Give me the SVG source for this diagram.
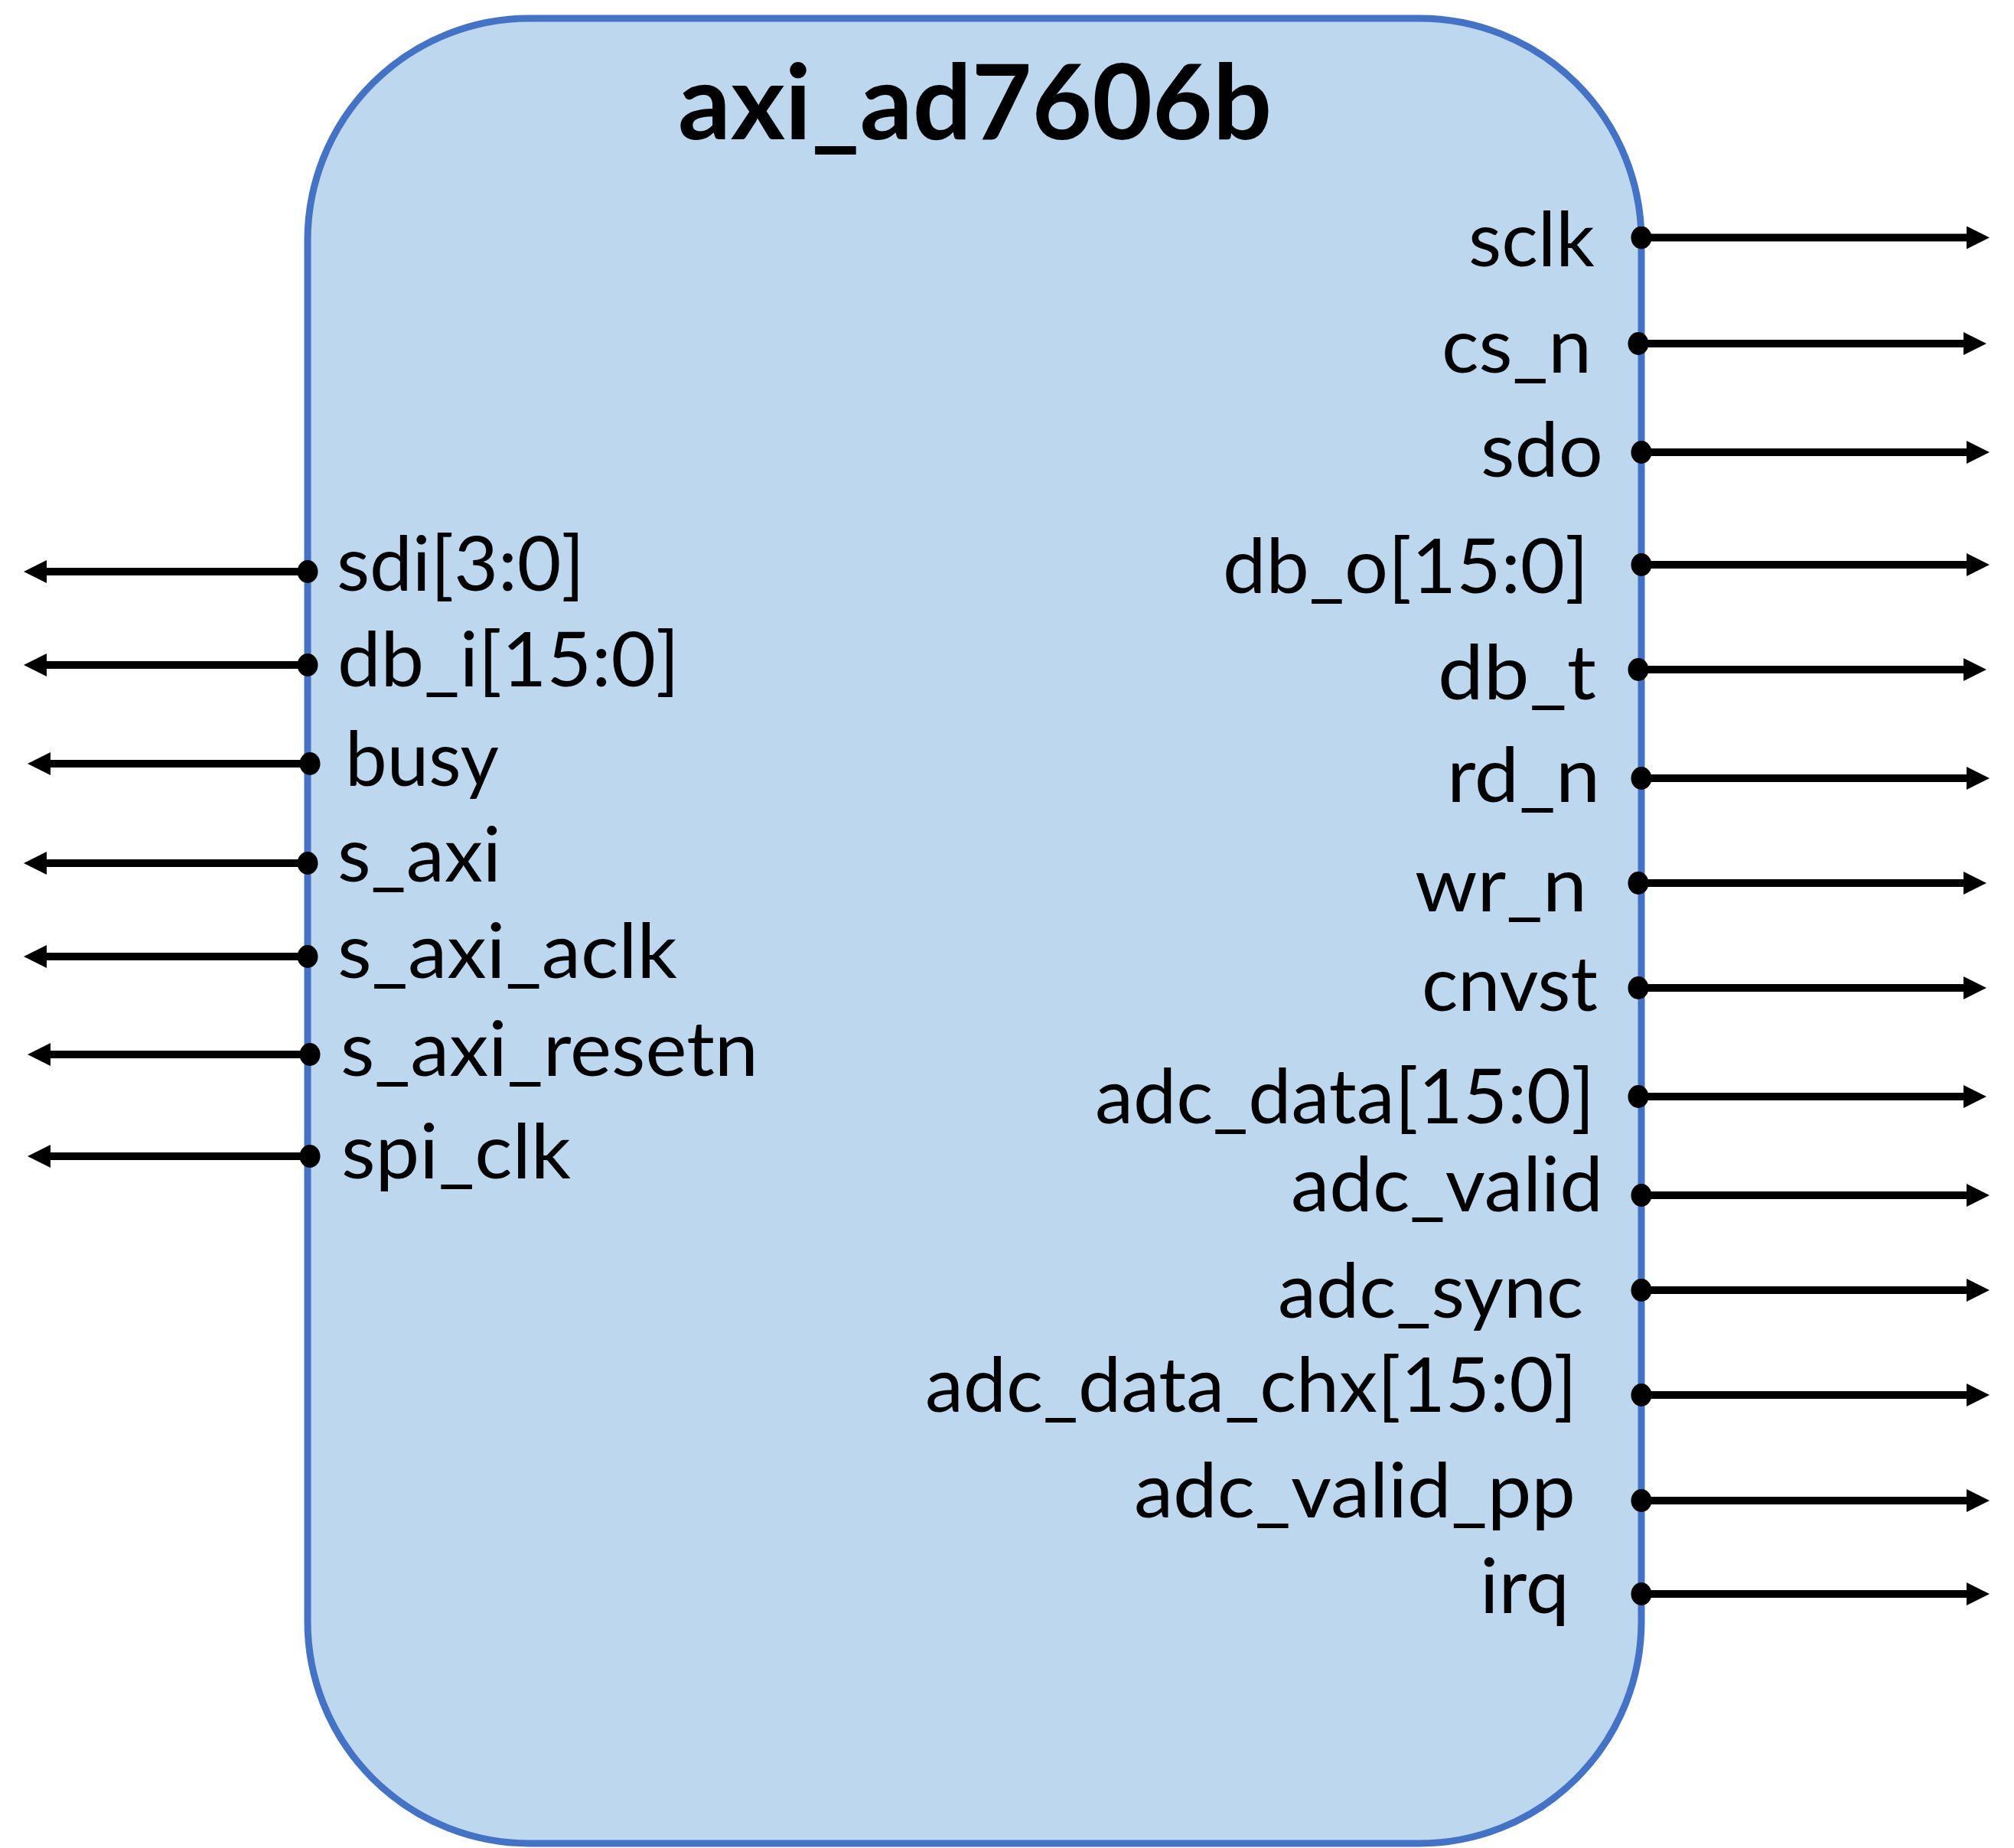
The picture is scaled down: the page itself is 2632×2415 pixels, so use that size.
<svg xmlns="http://www.w3.org/2000/svg" width="2632" height="2415" viewBox="0 0 2632 2415">
<style>
.blk{fill:#BDD7EE;stroke:#4472C4;stroke-width:9}
.ttl{font-family:Lato,"Open Sans","Liberation Sans",sans-serif;font-weight:bold;font-size:136px;fill:#000}
.lbl{font-family:Lato,"Open Sans","Liberation Sans",sans-serif;font-size:99px;fill:#000}
.r{text-anchor:end}
.w{stroke:#000;stroke-width:10;fill:none;marker-start:url(#dot);marker-end:url(#head)}
</style>
<defs>
<marker id="head" viewBox="0 0 30 30" markerUnits="userSpaceOnUse" markerWidth="30" markerHeight="30" refX="2" refY="15" orient="auto">
<path d="M0,0 L30,15 L0,30 z" fill="#000"/>
</marker>
<marker id="dot" viewBox="0 0 30 30" markerUnits="userSpaceOnUse" markerWidth="30" markerHeight="30" refX="15" refY="15" orient="auto">
<ellipse cx="15" cy="15" rx="13.5" ry="15" fill="#000"/>
</marker>
</defs>
<g id="axi_ad7606b">
<rect class="blk" x="402" y="24" width="1743" height="2385" rx="290" ry="290"/>
<text class="ttl" x="1274" y="182" text-anchor="middle" textLength="776" lengthAdjust="spacingAndGlyphs">axi_ad7606b</text>
<text class="lbl" x="440" y="772" textLength="324" lengthAdjust="spacingAndGlyphs">sdi[3:0]</text>
<text class="lbl" x="441" y="897" textLength="447" lengthAdjust="spacingAndGlyphs">db_i[15:0]</text>
<text class="lbl" x="451" y="1027" textLength="201" lengthAdjust="spacingAndGlyphs">busy</text>
<text class="lbl" x="441" y="1152" textLength="214" lengthAdjust="spacingAndGlyphs">s_axi</text>
<text class="lbl" x="441" y="1278" textLength="444" lengthAdjust="spacingAndGlyphs">s_axi_aclk</text>
<text class="lbl" x="445" y="1406" textLength="546" lengthAdjust="spacingAndGlyphs">s_axi_resetn</text>
<text class="lbl" x="446" y="1540" textLength="300" lengthAdjust="spacingAndGlyphs">spi_clk</text>
<text class="lbl r" x="2084" y="348" textLength="165" lengthAdjust="spacingAndGlyphs">sclk</text>
<text class="lbl r" x="2080" y="487" textLength="196" lengthAdjust="spacingAndGlyphs">cs_n</text>
<text class="lbl r" x="2095" y="623" textLength="160" lengthAdjust="spacingAndGlyphs">sdo</text>
<text class="lbl r" x="2076" y="775" textLength="478" lengthAdjust="spacingAndGlyphs">db_o[15:0]</text>
<text class="lbl r" x="2086" y="914" textLength="207" lengthAdjust="spacingAndGlyphs">db_t</text>
<text class="lbl r" x="2091" y="1048" textLength="200" lengthAdjust="spacingAndGlyphs">rd_n</text>
<text class="lbl r" x="2074" y="1191" textLength="225" lengthAdjust="spacingAndGlyphs">wr_n</text>
<text class="lbl r" x="2088" y="1321" textLength="230" lengthAdjust="spacingAndGlyphs">cnvst</text>
<text class="lbl r" x="2084" y="1468" textLength="653" lengthAdjust="spacingAndGlyphs">adc_data[15:0]</text>
<text class="lbl r" x="2095" y="1583" textLength="408" lengthAdjust="spacingAndGlyphs">adc_valid</text>
<text class="lbl r" x="2069" y="1722" textLength="399" lengthAdjust="spacingAndGlyphs">adc_sync</text>
<text class="lbl r" x="2061" y="1845" textLength="852" lengthAdjust="spacingAndGlyphs">adc_data_chx[15:0]</text>
<text class="lbl r" x="2059" y="1983" textLength="577" lengthAdjust="spacingAndGlyphs">adc_valid_pp</text>
<text class="lbl r" x="2051" y="2108" textLength="117" lengthAdjust="spacingAndGlyphs">irq</text>
</g>
<g id="connectors">
<line class="w" x1="402" y1="747" x2="59" y2="747"/>
<line class="w" x1="402" y1="869" x2="59" y2="869"/>
<line class="w" x1="405" y1="998" x2="64" y2="998"/>
<line class="w" x1="402" y1="1128" x2="59" y2="1128"/>
<line class="w" x1="402" y1="1250" x2="59" y2="1250"/>
<line class="w" x1="405" y1="1378" x2="64" y2="1378"/>
<line class="w" x1="405" y1="1511" x2="64" y2="1511"/>
<line class="w" x1="2145" y1="310.5" x2="2572" y2="310.5"/>
<line class="w" x1="2141" y1="449" x2="2568" y2="449"/>
<line class="w" x1="2145" y1="591" x2="2572" y2="591"/>
<line class="w" x1="2145" y1="738" x2="2572" y2="738"/>
<line class="w" x1="2141" y1="875" x2="2568" y2="875"/>
<line class="w" x1="2145" y1="1017" x2="2572" y2="1017"/>
<line class="w" x1="2141" y1="1154" x2="2568" y2="1154"/>
<line class="w" x1="2141" y1="1291" x2="2568" y2="1291"/>
<line class="w" x1="2141" y1="1433" x2="2568" y2="1433"/>
<line class="w" x1="2145" y1="1562" x2="2572" y2="1562"/>
<line class="w" x1="2145" y1="1686" x2="2572" y2="1686"/>
<line class="w" x1="2145" y1="1823" x2="2572" y2="1823"/>
<line class="w" x1="2145" y1="1961" x2="2572" y2="1961"/>
<line class="w" x1="2145" y1="2083" x2="2572" y2="2083"/>
</g>
</svg>
